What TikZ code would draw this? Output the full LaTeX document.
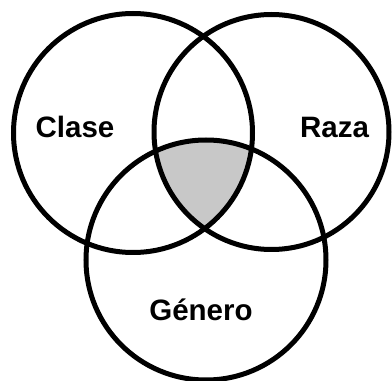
\documentclass[tikz,border=0pt]{standalone}
\usepackage{fontspec}
\setmainfont{Liberation Sans}
\definecolor{venngray}{RGB}{200,200,200}
\begin{document}
\begin{tikzpicture}[x=1pt,y=1pt,
  ring/.style={draw=black,line width=5pt},
  lbl/.style={font=\bfseries\fontsize{29.5}{31}\selectfont,anchor=base,inner sep=0pt}]
\useasboundingbox (0,0) rectangle (392,381);
\coordinate (cl) at (133,248);
\coordinate (cr) at (271.5,249);
\coordinate (cb) at (206,121);
\begin{scope}
  \clip (cl) circle (119.5);
  \clip (cr) circle (117.5);
  \fill[venngray] (cb) circle (120);
\end{scope}
\draw[ring] (cl) circle (119.5);
\draw[ring] (cr) circle (117.5);
\draw[ring] (cb) circle (120);
\node[lbl] (clase) at (75,243) {Clase};
\node[lbl] (raza) at (334.5,243) {Raza};
\node[lbl] (genero) at (201,60) {Género};
\end{tikzpicture}
\end{document}
